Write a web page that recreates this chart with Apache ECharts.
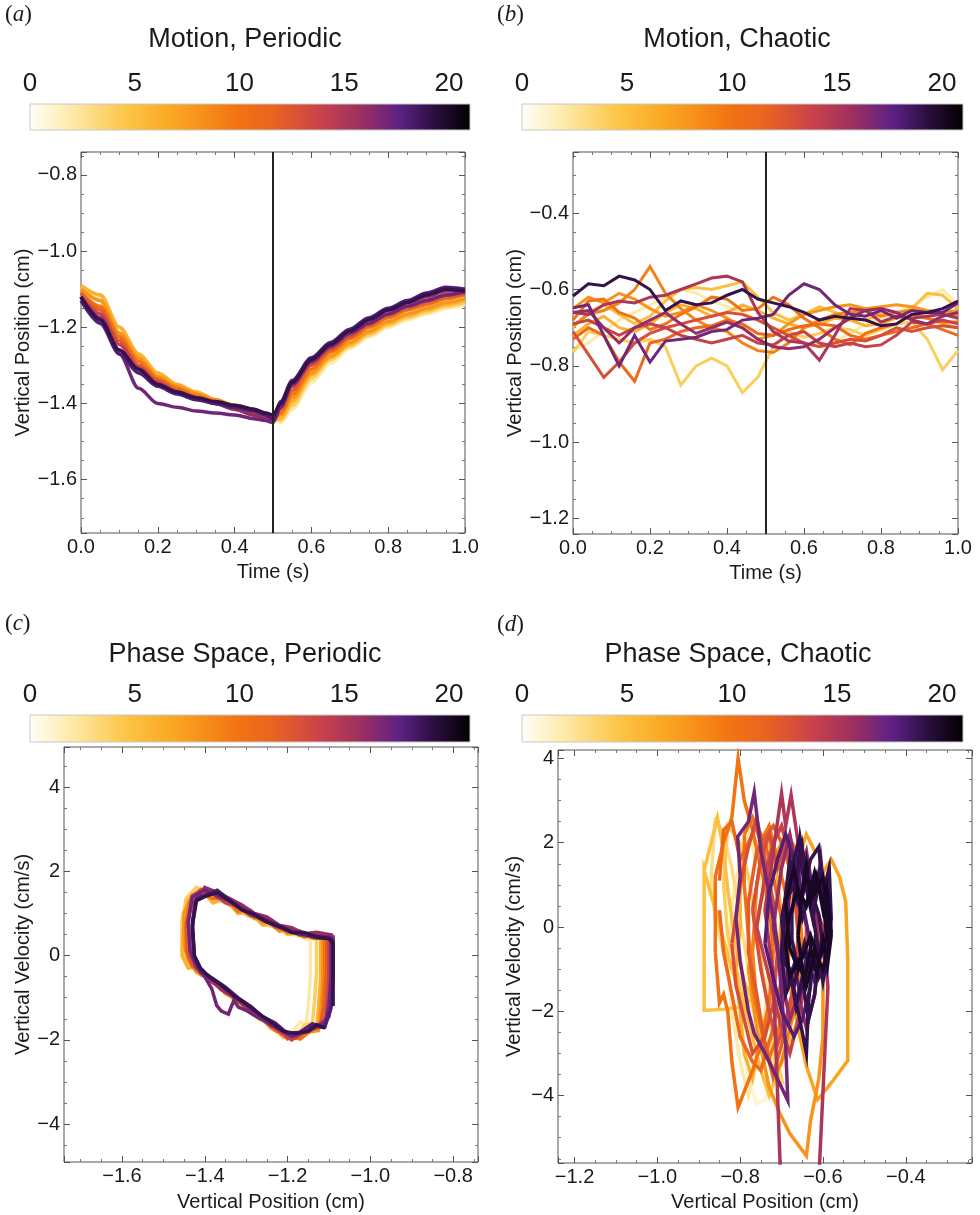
<!DOCTYPE html>
<html><head><meta charset="utf-8">
<script src="https://cdn.jsdelivr.net/npm/echarts@6/dist/echarts.min.js"></script>
<style>html,body{margin:0;padding:0;background:#fff}#c{width:980px;height:1215px}</style>
</head><body><div id="c"></div>
<script>
// ---------------- DATA ----------------
const colorbarMax = 21;
const divideTime = 0.5;

// (a) Motion, Periodic : time samples and one array per cycle
const timeA = [0,0.05,0.1,0.15,0.2,0.25,0.3,0.35,0.4,0.45,0.48,0.5,0.52,0.55,0.6,0.65,0.7,0.75,0.8,0.85,0.9,0.95,1.0];
const mp_c2  = [-1.10,-1.12,-1.20,-1.275,-1.325,-1.355,-1.375,-1.39,-1.405,-1.42,-1.43,-1.44,-1.45,-1.415,-1.345,-1.295,-1.255,-1.225,-1.20,-1.18,-1.165,-1.15,-1.14];
const mp_c4  = [-1.095,-1.115,-1.20,-1.27,-1.32,-1.35,-1.37,-1.39,-1.405,-1.42,-1.43,-1.44,-1.445,-1.405,-1.335,-1.285,-1.25,-1.22,-1.195,-1.175,-1.16,-1.145,-1.135];
const mp_c6  = [-1.09,-1.115,-1.20,-1.27,-1.32,-1.35,-1.37,-1.39,-1.405,-1.42,-1.425,-1.44,-1.44,-1.395,-1.325,-1.28,-1.245,-1.215,-1.19,-1.17,-1.155,-1.14,-1.13];
const mp_c8  = [-1.10,-1.13,-1.215,-1.28,-1.33,-1.355,-1.375,-1.39,-1.405,-1.415,-1.425,-1.435,-1.43,-1.385,-1.32,-1.275,-1.24,-1.21,-1.185,-1.165,-1.15,-1.135,-1.125];
const mp_c10 = [-1.11,-1.145,-1.225,-1.29,-1.335,-1.36,-1.38,-1.395,-1.41,-1.42,-1.43,-1.44,-1.425,-1.375,-1.31,-1.265,-1.23,-1.20,-1.175,-1.155,-1.14,-1.125,-1.115];
const mp_c12 = [-1.11,-1.155,-1.235,-1.30,-1.34,-1.365,-1.385,-1.40,-1.41,-1.425,-1.435,-1.445,-1.415,-1.365,-1.30,-1.26,-1.225,-1.195,-1.17,-1.15,-1.135,-1.12,-1.11];
const mp_c14 = [-1.12,-1.165,-1.245,-1.305,-1.345,-1.37,-1.385,-1.40,-1.415,-1.43,-1.44,-1.445,-1.405,-1.355,-1.295,-1.255,-1.22,-1.19,-1.165,-1.145,-1.13,-1.115,-1.11];
const mp_c16 = [-1.12,-1.175,-1.26,-1.31,-1.35,-1.37,-1.385,-1.40,-1.415,-1.43,-1.44,-1.44,-1.40,-1.345,-1.285,-1.245,-1.21,-1.18,-1.155,-1.135,-1.12,-1.105,-1.10];
const mp_c17 = [-1.12,-1.18,-1.27,-1.36,-1.40,-1.41,-1.42,-1.425,-1.43,-1.44,-1.445,-1.45,-1.41,-1.35,-1.29,-1.25,-1.215,-1.19,-1.165,-1.145,-1.13,-1.115,-1.105];
const mp_c18 = [-1.13,-1.19,-1.27,-1.32,-1.355,-1.375,-1.39,-1.40,-1.41,-1.42,-1.43,-1.44,-1.395,-1.34,-1.28,-1.24,-1.205,-1.175,-1.15,-1.13,-1.11,-1.095,-1.10];
const mp_c19 = [-1.12,-1.18,-1.26,-1.31,-1.35,-1.37,-1.385,-1.395,-1.405,-1.415,-1.425,-1.43,-1.40,-1.345,-1.285,-1.245,-1.21,-1.18,-1.155,-1.135,-1.115,-1.10,-1.105];
const mpCycles = [2,4,6,8,10,12,14,16,17,18,19];
const mpCurves = [mp_c2,mp_c4,mp_c6,mp_c8,mp_c10,mp_c12,mp_c14,mp_c16,mp_c17,mp_c18,mp_c19];

// (b) Motion, Chaotic
const timeB = [0,0.04,0.08,0.12,0.16,0.2,0.24,0.28,0.32,0.36,0.4,0.44,0.48,0.52,0.56,0.6,0.64,0.68,0.72,0.76,0.8,0.84,0.88,0.92,0.96,1.0];
const mc_c2  = [-0.76,-0.74,-0.71,-0.68,-0.66,-0.64,-0.62,-0.60,-0.61,-0.63,-0.645,-0.66,-0.68,-0.70,-0.72,-0.74,-0.745,-0.735,-0.715,-0.69,-0.675,-0.66,-0.645,-0.62,-0.60,-0.64];
const mc_c4  = [-0.765,-0.71,-0.72,-0.73,-0.74,-0.73,-0.75,-0.85,-0.80,-0.78,-0.80,-0.87,-0.83,-0.75,-0.71,-0.725,-0.715,-0.70,-0.705,-0.72,-0.705,-0.69,-0.685,-0.73,-0.81,-0.76];
const mc_c5  = [-0.70,-0.66,-0.64,-0.665,-0.69,-0.67,-0.63,-0.60,-0.595,-0.60,-0.59,-0.58,-0.62,-0.66,-0.68,-0.665,-0.645,-0.66,-0.675,-0.68,-0.665,-0.665,-0.65,-0.61,-0.615,-0.65];
const mc_c6  = [-0.72,-0.69,-0.67,-0.70,-0.71,-0.69,-0.66,-0.64,-0.65,-0.67,-0.66,-0.64,-0.655,-0.675,-0.69,-0.70,-0.69,-0.675,-0.68,-0.695,-0.69,-0.675,-0.67,-0.675,-0.69,-0.70];
const mc_c8  = [-0.65,-0.62,-0.635,-0.61,-0.625,-0.65,-0.67,-0.66,-0.64,-0.655,-0.675,-0.70,-0.73,-0.72,-0.69,-0.665,-0.655,-0.645,-0.64,-0.65,-0.645,-0.64,-0.645,-0.655,-0.66,-0.655];
const mc_c9  = [-0.695,-0.665,-0.655,-0.635,-0.60,-0.54,-0.61,-0.65,-0.68,-0.70,-0.71,-0.74,-0.76,-0.765,-0.74,-0.70,-0.68,-0.665,-0.66,-0.655,-0.67,-0.66,-0.655,-0.66,-0.665,-0.67];
const mc_c10 = [-0.68,-0.63,-0.625,-0.66,-0.675,-0.705,-0.69,-0.665,-0.645,-0.62,-0.625,-0.655,-0.65,-0.62,-0.64,-0.675,-0.70,-0.73,-0.745,-0.715,-0.70,-0.69,-0.665,-0.675,-0.685,-0.685];
const mc_c11 = [-0.73,-0.70,-0.72,-0.79,-0.84,-0.74,-0.73,-0.71,-0.70,-0.695,-0.68,-0.69,-0.715,-0.72,-0.705,-0.695,-0.69,-0.695,-0.72,-0.73,-0.72,-0.71,-0.70,-0.69,-0.705,-0.72];
const mc_c13 = [-0.71,-0.77,-0.83,-0.79,-0.74,-0.715,-0.70,-0.69,-0.68,-0.67,-0.66,-0.665,-0.68,-0.70,-0.72,-0.74,-0.75,-0.74,-0.73,-0.735,-0.72,-0.70,-0.71,-0.70,-0.695,-0.70];
const mc_c14 = [-0.69,-0.68,-0.70,-0.72,-0.70,-0.69,-0.70,-0.72,-0.73,-0.74,-0.73,-0.72,-0.74,-0.745,-0.72,-0.71,-0.74,-0.75,-0.74,-0.75,-0.745,-0.72,-0.685,-0.69,-0.68,-0.69];
const mc_c15 = [-0.66,-0.665,-0.64,-0.63,-0.635,-0.62,-0.615,-0.60,-0.585,-0.57,-0.565,-0.58,-0.66,-0.71,-0.735,-0.74,-0.785,-0.72,-0.65,-0.655,-0.685,-0.67,-0.675,-0.67,-0.665,-0.675];
const mc_c16 = [-0.66,-0.655,-0.70,-0.74,-0.70,-0.68,-0.66,-0.69,-0.715,-0.70,-0.685,-0.70,-0.73,-0.75,-0.755,-0.75,-0.73,-0.70,-0.675,-0.655,-0.65,-0.66,-0.68,-0.69,-0.67,-0.66];
const mc_c17 = [-0.648,-0.64,-0.72,-0.80,-0.72,-0.79,-0.735,-0.73,-0.725,-0.71,-0.705,-0.68,-0.675,-0.665,-0.615,-0.585,-0.60,-0.64,-0.665,-0.67,-0.655,-0.675,-0.655,-0.66,-0.66,-0.635];
const mc_c19 = [-0.617,-0.585,-0.59,-0.565,-0.575,-0.60,-0.655,-0.63,-0.64,-0.635,-0.615,-0.60,-0.625,-0.635,-0.645,-0.66,-0.68,-0.67,-0.675,-0.68,-0.695,-0.69,-0.665,-0.66,-0.65,-0.63];
const mcCycles = [2,4,5,6,8,9,10,11,13,14,15,16,17,19];
const mcCurves = [mc_c2,mc_c4,mc_c5,mc_c6,mc_c8,mc_c9,mc_c10,mc_c11,mc_c13,mc_c14,mc_c15,mc_c16,mc_c17,mc_c19];

// (c) Phase Space, Periodic : [position (cm), velocity (cm/s)]
const pp_c2  = [[-1.145,0.35],[-1.145,-0.5],[-1.15,-1.2],[-1.155,-1.62],[-1.17,-1.58],[-1.19,-1.85],[-1.21,-1.92],[-1.24,-1.70],[-1.27,-1.45],[-1.30,-1.25],[-1.33,-0.98],[-1.36,-0.78],[-1.39,-0.55],[-1.42,-0.35],[-1.44,-0.15],[-1.455,0.2],[-1.455,0.9],[-1.44,1.40],[-1.41,1.55],[-1.38,1.38],[-1.35,1.30],[-1.32,1.08],[-1.29,0.95],[-1.26,0.78],[-1.23,0.68],[-1.20,0.52],[-1.17,0.46],[-1.145,0.35]];
const pp_c4  = [[-1.13,0.40],[-1.13,-0.4],[-1.135,-1.1],[-1.14,-1.60],[-1.16,-1.66],[-1.18,-1.92],[-1.21,-1.85],[-1.24,-1.66],[-1.27,-1.40],[-1.30,-1.20],[-1.33,-1.02],[-1.36,-0.74],[-1.39,-0.58],[-1.42,-0.30],[-1.44,-0.20],[-1.455,0.1],[-1.455,0.8],[-1.445,1.35],[-1.42,1.62],[-1.39,1.42],[-1.36,1.30],[-1.33,1.18],[-1.30,0.96],[-1.27,0.86],[-1.24,0.70],[-1.21,0.60],[-1.18,0.50],[-1.15,0.45],[-1.13,0.40]];
const pp_c6  = [[-1.12,0.42],[-1.12,-0.5],[-1.125,-1.2],[-1.13,-1.72],[-1.15,-1.70],[-1.18,-1.90],[-1.21,-1.95],[-1.24,-1.62],[-1.27,-1.50],[-1.30,-1.15],[-1.33,-1.05],[-1.36,-0.70],[-1.39,-0.62],[-1.42,-0.28],[-1.44,-0.30],[-1.455,0.0],[-1.45,0.9],[-1.44,1.30],[-1.41,1.58],[-1.38,1.25],[-1.35,1.35],[-1.32,1.00],[-1.29,1.02],[-1.26,0.72],[-1.23,0.75],[-1.20,0.50],[-1.17,0.55],[-1.14,0.40],[-1.12,0.42]];
const pp_c8  = [[-1.115,0.45],[-1.115,-0.6],[-1.12,-1.3],[-1.125,-1.78],[-1.15,-1.82],[-1.18,-1.96],[-1.21,-1.88],[-1.24,-1.72],[-1.27,-1.42],[-1.30,-1.28],[-1.33,-0.95],[-1.36,-0.82],[-1.39,-0.50],[-1.42,-0.40],[-1.44,-0.10],[-1.45,0.3],[-1.45,1.0],[-1.43,1.45],[-1.40,1.50],[-1.37,1.45],[-1.34,1.20],[-1.31,1.15],[-1.28,0.88],[-1.25,0.85],[-1.22,0.58],[-1.19,0.62],[-1.16,0.45],[-1.13,0.50],[-1.115,0.45]];
const pp_c10 = [[-1.11,0.40],[-1.11,-0.5],[-1.115,-1.25],[-1.12,-1.70],[-1.14,-1.75],[-1.17,-1.98],[-1.20,-1.90],[-1.23,-1.78],[-1.26,-1.50],[-1.29,-1.32],[-1.32,-1.05],[-1.35,-0.90],[-1.38,-0.60],[-1.41,-0.45],[-1.43,-0.20],[-1.445,0.1],[-1.445,0.8],[-1.435,1.30],[-1.41,1.48],[-1.38,1.35],[-1.35,1.38],[-1.32,1.05],[-1.29,1.08],[-1.26,0.80],[-1.23,0.78],[-1.20,0.55],[-1.17,0.58],[-1.14,0.42],[-1.11,0.40]];
const pp_c12 = [[-1.105,0.45],[-1.105,-0.4],[-1.11,-1.2],[-1.12,-1.62],[-1.14,-1.70],[-1.17,-1.85],[-1.20,-1.98],[-1.23,-1.65],[-1.26,-1.48],[-1.29,-1.20],[-1.32,-1.08],[-1.35,-0.78],[-1.38,-0.65],[-1.41,-0.35],[-1.43,-0.25],[-1.44,0.0],[-1.445,0.7],[-1.43,1.35],[-1.40,1.60],[-1.37,1.38],[-1.34,1.32],[-1.31,1.10],[-1.28,0.92],[-1.25,0.85],[-1.22,0.65],[-1.19,0.60],[-1.16,0.45],[-1.13,0.48],[-1.105,0.45]];
const pp_c14 = [[-1.10,0.42],[-1.10,-0.6],[-1.105,-1.3],[-1.11,-1.66],[-1.13,-1.72],[-1.16,-1.82],[-1.19,-2.00],[-1.22,-1.80],[-1.25,-1.55],[-1.28,-1.30],[-1.31,-1.12],[-1.34,-0.85],[-1.37,-0.70],[-1.40,-0.42],[-1.42,-0.30],[-1.435,0.0],[-1.44,0.8],[-1.43,1.40],[-1.41,1.55],[-1.38,1.48],[-1.35,1.25],[-1.32,1.18],[-1.29,0.95],[-1.26,0.90],[-1.23,0.68],[-1.20,0.62],[-1.17,0.48],[-1.14,0.50],[-1.10,0.42]];
const pp_c16 = [[-1.09,0.48],[-1.09,-0.4],[-1.095,-1.1],[-1.10,-1.45],[-1.12,-1.62],[-1.15,-1.72],[-1.18,-1.90],[-1.21,-1.78],[-1.24,-1.66],[-1.27,-1.38],[-1.30,-1.22],[-1.33,-0.98],[-1.36,-0.80],[-1.39,-0.55],[-1.41,-0.40],[-1.425,-0.1],[-1.43,0.6],[-1.425,1.25],[-1.40,1.62],[-1.37,1.50],[-1.34,1.35],[-1.31,1.20],[-1.28,1.00],[-1.25,0.92],[-1.22,0.72],[-1.19,0.66],[-1.16,0.52],[-1.13,0.55],[-1.09,0.48]];
const pp_c17 = [[-1.095,0.45],[-1.095,-0.5],[-1.10,-1.2],[-1.11,-1.62],[-1.13,-1.68],[-1.16,-1.80],[-1.19,-1.92],[-1.22,-1.75],[-1.25,-1.58],[-1.28,-1.42],[-1.30,-1.30],[-1.318,-1.23],[-1.33,-1.07],[-1.343,-1.39],[-1.36,-1.32],[-1.371,-1.19],[-1.383,-0.79],[-1.40,-0.50],[-1.42,-0.25],[-1.435,0.1],[-1.44,0.8],[-1.43,1.40],[-1.40,1.55],[-1.37,1.42],[-1.34,1.30],[-1.31,1.12],[-1.28,0.98],[-1.25,0.85],[-1.22,0.70],[-1.19,0.58],[-1.16,0.52],[-1.13,0.45],[-1.095,0.45]];
const pp_c18 = [[-1.09,0.40],[-1.09,-0.3],[-1.092,-0.9],[-1.095,-1.25],[-1.11,-1.70],[-1.14,-1.62],[-1.17,-1.82],[-1.20,-1.85],[-1.23,-1.60],[-1.26,-1.45],[-1.29,-1.20],[-1.32,-1.00],[-1.35,-0.75],[-1.38,-0.55],[-1.41,-0.35],[-1.425,-0.05],[-1.43,0.8],[-1.42,1.35],[-1.395,1.45],[-1.37,1.55],[-1.34,1.32],[-1.31,1.10],[-1.28,0.95],[-1.25,0.80],[-1.22,0.68],[-1.19,0.55],[-1.16,0.50],[-1.13,0.42],[-1.09,0.40]];
const pp_c19 = [[-1.11,-1.72],[-1.13,-1.65],[-1.15,-1.80],[-1.18,-1.85],[-1.21,-1.80],[-1.24,-1.58],[-1.27,-1.38],[-1.30,-1.15],[-1.33,-0.95],[-1.36,-0.70],[-1.39,-0.50],[-1.41,-0.30],[-1.425,0.0],[-1.43,0.7],[-1.42,1.30],[-1.40,1.40],[-1.37,1.50],[-1.34,1.30],[-1.31,1.08],[-1.28,0.98],[-1.25,0.80],[-1.22,0.70],[-1.19,0.55],[-1.16,0.55],[-1.13,0.45],[-1.10,0.40],[-1.09,0.30],[-1.09,-0.5],[-1.09,-1.2]];
const ppCycles = [2,4,6,8,10,12,14,16,17,18,19];
const ppCurves = [pp_c2,pp_c4,pp_c6,pp_c8,pp_c10,pp_c12,pp_c14,pp_c16,pp_c17,pp_c18,pp_c19];

// (d) Phase Space, Chaotic : [position (cm), velocity (cm/s)]
const pc_c1  = [[-0.72,0.2],[-0.70,1.2],[-0.68,1.9],[-0.66,1.2],[-0.62,0.6],[-0.60,-0.4],[-0.62,-1.6],[-0.66,-2.6],[-0.70,-3.4],[-0.74,-4.1],[-0.76,-4.2],[-0.78,-3.6],[-0.80,-2.4],[-0.79,-1.2],[-0.77,-0.3],[-0.74,0.5],[-0.72,1.3]];
const pc_c2  = [[-0.82,0.5],[-0.80,1.6],[-0.78,2.3],[-0.76,1.5],[-0.74,0.6],[-0.73,-0.8],[-0.74,-2.0],[-0.76,-3.0],[-0.78,-4.0],[-0.80,-3.2],[-0.82,-2.0],[-0.83,-0.8],[-0.82,0.5]];
const pc_c3  = [[-0.86,2.6],[-0.84,2.2],[-0.82,1.4],[-0.80,0.2],[-0.78,-1.0],[-0.75,-2.4],[-0.72,-3.2],[-0.70,-3.8],[-0.72,-3.0],[-0.76,-2.2],[-0.80,-1.2],[-0.84,-0.6],[-0.86,0.2],[-0.87,1.2],[-0.86,2.6]];
const pc_c4  = [[-0.84,1.0],[-0.83,2.4],[-0.80,2.0],[-0.78,1.2],[-0.76,0.0],[-0.74,-1.5],[-0.72,-2.8],[-0.70,-3.6],[-0.73,-3.2],[-0.77,-2.4],[-0.80,-1.4],[-0.83,-0.2],[-0.84,1.0]];
const pc_c5  = [[-0.887,1.35],[-0.87,2.0],[-0.855,2.6],[-0.84,1.8],[-0.83,0.9],[-0.81,-0.5],[-0.79,-1.3],[-0.77,-1.7],[-0.80,-1.9],[-0.84,-1.95],[-0.887,-1.98],[-0.887,-0.5],[-0.887,1.35],[-0.86,0.4],[-0.82,-1.0],[-0.78,-2.2],[-0.75,-3.4],[-0.73,-4.0],[-0.70,-3.2],[-0.66,-2.2]];
const pc_c6  = [[-0.80,0.8],[-0.79,1.8],[-0.77,2.2],[-0.75,1.6],[-0.73,2.0],[-0.71,1.2],[-0.70,0.2],[-0.71,-0.8],[-0.73,-1.8],[-0.75,-2.6],[-0.77,-3.6],[-0.79,-3.0],[-0.80,-2.0],[-0.81,-1.0],[-0.80,0.0],[-0.80,0.8]];
const pc_c7  = [[-0.66,0.2],[-0.62,1.0],[-0.58,1.6],[-0.56,1.19],[-0.545,0.6],[-0.54,-0.8],[-0.54,-2.0],[-0.54,-3.17],[-0.58,-3.7],[-0.613,-4.1],[-0.64,-3.3],[-0.66,-2.4],[-0.68,-1.4],[-0.69,-0.4],[-0.68,0.6],[-0.66,1.6],[-0.64,2.2],[-0.62,1.8]];
const pc_c8  = [[-0.78,-1.0],[-0.76,-2.4],[-0.73,-3.8],[-0.705,-4.4],[-0.68,-4.9],[-0.64,-5.43],[-0.63,-4.6],[-0.61,-3.6],[-0.60,-2.6],[-0.60,-1.4],[-0.61,-0.2],[-0.63,1.0],[-0.66,1.8],[-0.69,2.2],[-0.72,1.6],[-0.75,0.6],[-0.78,-1.0]];
const pc_c9  = [[-0.76,1.0],[-0.74,2.2],[-0.72,2.0],[-0.70,2.4],[-0.68,1.6],[-0.66,0.8],[-0.65,-0.4],[-0.66,-1.6],[-0.68,-2.4],[-0.70,-3.2],[-0.72,-3.6],[-0.74,-2.8],[-0.76,-1.8],[-0.77,-0.6],[-0.76,1.0]];
const pc_c10 = [[-0.86,-0.6],[-0.86,1.2],[-0.84,2.0],[-0.82,2.6],[-0.805,4.0],[-0.79,3.0],[-0.77,2.3],[-0.75,1.4],[-0.73,0.6],[-0.72,-0.6],[-0.73,-1.8],[-0.75,-2.8],[-0.77,-3.4],[-0.79,-3.9],[-0.805,-4.28],[-0.82,-3.2],[-0.83,-2.0],[-0.84,-1.6],[-0.85,-1.8],[-0.86,-0.6]];
const pc_c10b = [[-0.79,2.2],[-0.77,2.6],[-0.75,2.0],[-0.73,2.4],[-0.71,1.6],[-0.69,0.8],[-0.68,-0.4],[-0.69,-1.4],[-0.71,-2.6],[-0.73,-3.1],[-0.75,-2.4],[-0.77,-1.4],[-0.78,-0.2],[-0.79,1.0],[-0.79,2.2]];
const pc_c11 = [[-0.85,1.1],[-0.84,2.3],[-0.82,2.5],[-0.80,1.6],[-0.78,2.0],[-0.76,2.4],[-0.74,2.0],[-0.72,1.2],[-0.70,0.2],[-0.70,-1.2],[-0.72,-2.4],[-0.75,-3.4],[-0.77,-3.2],[-0.80,-2.6],[-0.82,-1.6],[-0.84,-0.6],[-0.85,0.4]];
const pc_c12 = [[-0.78,0.6],[-0.76,1.8],[-0.72,2.4],[-0.70,2.0],[-0.68,1.4],[-0.66,0.4],[-0.66,-0.8],[-0.68,-2.0],[-0.70,-2.8],[-0.72,-3.5],[-0.74,-2.8],[-0.76,-1.6],[-0.78,-0.6],[-0.78,0.6]];
const pc_c13 = [[-0.77,0.4],[-0.75,1.6],[-0.73,2.2],[-0.71,1.4],[-0.69,2.0],[-0.67,1.0],[-0.66,-0.2],[-0.67,-1.4],[-0.69,-2.2],[-0.71,-2.8],[-0.73,-2.0],[-0.75,-1.0],[-0.77,0.4]];
const pc_c13b = [[-0.82,-0.4],[-0.80,1.0],[-0.78,1.9],[-0.76,2.6],[-0.74,1.6],[-0.72,0.6],[-0.71,-0.6],[-0.72,-1.8],[-0.74,-2.6],[-0.77,-3.0],[-0.79,-2.2],[-0.81,-1.4],[-0.82,-0.4]];
const pc_c14 = [[-0.76,0.0],[-0.74,1.2],[-0.72,2.0],[-0.70,2.4],[-0.68,1.8],[-0.66,1.0],[-0.64,0.0],[-0.64,-1.2],[-0.66,-2.2],[-0.68,-3.0],[-0.70,-2.4],[-0.72,-1.6],[-0.74,-0.8],[-0.76,0.0]];
const pc_c15 = [[-0.74,0.4],[-0.72,1.8],[-0.70,3.17],[-0.69,2.4],[-0.677,3.13],[-0.66,2.0],[-0.64,1.0],[-0.60,0.0],[-0.588,-1.43],[-0.612,-6.4],[-0.70,-6.6],[-0.72,-1.1],[-0.73,-0.4],[-0.74,0.4]];
const pc_c16 = [[-0.72,0.0],[-0.70,1.4],[-0.68,2.2],[-0.66,1.2],[-0.64,1.8],[-0.62,0.6],[-0.61,-0.6],[-0.62,-1.6],[-0.64,-2.4],[-0.66,-1.6],[-0.68,-2.2],[-0.70,-1.2],[-0.72,0.0]];
const pc_c17 = [[-0.80,1.2],[-0.806,2.14],[-0.78,2.5],[-0.766,3.2],[-0.75,1.8],[-0.73,0.8],[-0.71,-0.4],[-0.70,-1.6],[-0.69,-2.8],[-0.685,-4.12],[-0.71,-3.6],[-0.74,-3.0],[-0.766,-2.53],[-0.78,-2.0],[-0.80,-0.8],[-0.81,0.2],[-0.80,1.2]];
const pc_c18 = [[-0.74,-0.4],[-0.73,0.8],[-0.71,1.6],[-0.69,2.2],[-0.67,1.6],[-0.65,0.6],[-0.63,-0.4],[-0.63,-1.4],[-0.65,-2.2],[-0.67,-2.6],[-0.70,-2.0],[-0.72,-1.2],[-0.74,-0.4]];
const pc_c18b = [[-0.69,-0.2],[-0.68,0.9],[-0.665,1.7],[-0.65,0.7],[-0.635,1.4],[-0.62,0.5],[-0.605,1.6],[-0.595,0.6],[-0.58,-0.2],[-0.59,-1.0],[-0.605,-0.4],[-0.62,-1.3],[-0.64,-0.7],[-0.655,-1.6],[-0.67,-0.9],[-0.685,-1.3],[-0.69,-0.2]];
const pc_c19 = [[-0.70,0.2],[-0.68,1.2],[-0.66,2.0],[-0.645,1.0],[-0.63,1.6],[-0.61,1.9],[-0.60,0.8],[-0.585,1.4],[-0.58,0.2],[-0.59,-0.8],[-0.61,-1.2],[-0.62,-0.4],[-0.635,-1.8],[-0.64,-3.0],[-0.66,-2.0],[-0.675,-1.2],[-0.69,-1.6],[-0.70,-0.6],[-0.69,0.6],[-0.67,1.0],[-0.65,0.2],[-0.63,0.9],[-0.61,0.3],[-0.60,-0.5],[-0.62,-1.0],[-0.65,-0.6],[-0.67,-1.4],[-0.69,-0.8],[-0.70,0.2]];
const pc_c19b = [[-0.675,0.3],[-0.665,1.1],[-0.65,1.9],[-0.64,0.9],[-0.625,0.2],[-0.61,1.1],[-0.595,0.3],[-0.59,-0.7],[-0.60,-1.3],[-0.615,-0.5],[-0.63,-1.1],[-0.645,-0.4],[-0.66,-1.0],[-0.675,-0.3],[-0.675,0.3]];
const pc_c19c = [[-0.70,-0.8],[-0.695,0.4],[-0.68,1.6],[-0.665,0.8],[-0.655,2.1],[-0.64,1.2],[-0.625,0.3],[-0.61,-0.6],[-0.62,-1.6],[-0.635,-2.2],[-0.65,-1.2],[-0.665,-1.9],[-0.68,-1.0],[-0.70,-0.8]];
const pc_c20 = [[-0.69,0.6],[-0.67,1.4],[-0.655,0.6],[-0.64,1.2],[-0.62,0.8],[-0.60,1.2],[-0.59,0.4],[-0.585,-0.4],[-0.60,-1.0],[-0.62,-0.6],[-0.64,-1.4],[-0.66,-0.8],[-0.68,-1.2],[-0.69,-0.4],[-0.68,0.3],[-0.66,0.9],[-0.64,0.5],[-0.62,1.3],[-0.60,0.6],[-0.59,-0.2],[-0.61,-0.8],[-0.63,-0.2],[-0.66,-1.0],[-0.68,-0.5],[-0.69,0.6]];
const pc_c20b = [[-0.66,-0.2],[-0.65,0.8],[-0.64,1.5],[-0.63,0.6],[-0.615,1.2],[-0.60,0.4],[-0.59,0.9],[-0.58,-0.1],[-0.59,-0.9],[-0.60,-0.3],[-0.615,-1.1],[-0.63,-0.5],[-0.645,-1.3],[-0.655,-0.6],[-0.66,-0.2]];
const pcCycles = [1,2,3,4,5,6,7,8,9,10,10,11,12,13,13,14,15,16,17,18,18,19,19,19,20,20];
const pcCurves = [pc_c1,pc_c2,pc_c3,pc_c4,pc_c5,pc_c6,pc_c7,pc_c8,pc_c9,pc_c10,pc_c10b,pc_c11,pc_c12,pc_c13,pc_c13b,pc_c14,pc_c15,pc_c16,pc_c17,pc_c18,pc_c18b,pc_c19,pc_c19b,pc_c19c,pc_c20,pc_c20b];

// ---------------- STYLE / BUILD ----------------
const FONT = '"Liberation Sans", Arial, sans-serif';
const TXT = '#1a1a1a';
const FRAME = '#555';
const cmapStops = [[0.00,'#fffff8'],[0.10,'#fde9a6'],[0.22,'#fcc546'],[0.33,'#faa622'],[0.47,'#f27412'],[0.55,'#ea6420'],[0.66,'#c8424a'],[0.75,'#9c3060'],[0.84,'#5c2184'],[0.92,'#2a0e3e'],[1.00,'#000000']];
function hex(h){return [1,3,5].map(i=>parseInt(h.substr(i,2),16));}
function colorAt(t){
  t=Math.max(0,Math.min(1,t));
  for(let i=1;i<cmapStops.length;i++){
    if(t<=cmapStops[i][0]){
      const a=hex(cmapStops[i-1][1]), b=hex(cmapStops[i][1]);
      const f=(t-cmapStops[i-1][0])/(cmapStops[i][0]-cmapStops[i-1][0]);
      return 'rgb('+a.map((v,k)=>Math.round(v+(b[k]-v)*f)).join(',')+')';
    }
  }
  return '#000';
}
function fmt1(v){return (v<-1e-9?'\u2212':'')+Math.abs(v).toFixed(1);}
function fmt0(v){return (v<-1e-9?'\u2212':'')+Math.abs(Math.round(v));}

const grids = [
  {left:81, top:152, width:384, height:381},
  {left:573, top:152, width:385, height:382},
  {left:64, top:747, width:414, height:415},
  {left:558, top:750, width:414, height:413},
  {left:30, top:104, width:440, height:26},
  {left:522, top:104, width:441, height:26},
  {left:30, top:715, width:440, height:27},
  {left:522, top:715, width:441, height:27}
].map((g,i)=>Object.assign(g, i<4 ? {show:true, borderColor:FRAME, borderWidth:1, backgroundColor:'transparent'} : {show:false}));

function mainAxis(gi, pos, min, max, interval, fmt, name, nameGap, mirror){
  const a = {type:'value', gridIndex:gi, position:pos, min:min, max:max, splitNumber:5,
    axisLine:{show:false, onZero:false},
    axisTick:{show:true, inside:true, length:6, lineStyle:{color:FRAME, width:1}},
    minorTick:{show:true, splitNumber:4, length:3, lineStyle:{color:'#777', width:1}},
    splitLine:{show:false}, minorSplitLine:{show:false}};
  if (interval) a.interval = interval;
  if (mirror) { a.axisLabel = {show:false}; }
  else {
    a.axisLabel = {show:true, formatter:fmt, color:TXT, fontSize:20, fontFamily:FONT, margin:4,
      showMinLabel: !!interval, showMaxLabel: !!interval};
    a.name = name; a.nameLocation = 'middle'; a.nameGap = nameGap;
    a.nameTextStyle = {color:TXT, fontSize:20, fontFamily:FONT};
  }
  return a;
}
const axSpec = [
  {x:[0,1,0.2,fmt1,'Time (s)',29], y:[-1.74,-0.74,null,fmt1,'Vertical Position (cm)',46]},
  {x:[0,1,0.2,fmt1,'Time (s)',29], y:[-1.24,-0.24,null,fmt1,'Vertical Position (cm)',48]},
  {x:[-1.74,-0.74,null,fmt1,'Vertical Position (cm)',30], y:[-4.9,4.95,null,fmt0,'Vertical Velocity (cm/s)',30]},
  {x:[-1.24,-0.24,null,fmt1,'Vertical Position (cm)',29], y:[-5.6,4.2,null,fmt0,'Vertical Velocity (cm/s)',34]}
];
const xAxes=[], yAxes=[];
axSpec.forEach((s,i)=>{ xAxes.push(mainAxis(i,'bottom',...s.x,false)); yAxes.push(mainAxis(i,'left',...s.y,false)); });
axSpec.forEach((s,i)=>{ xAxes.push(mainAxis(i,'top',...s.x,true)); yAxes.push(mainAxis(i,'right',...s.y,true)); });
for(let k=0;k<4;k++){
  xAxes.push({type:'value', gridIndex:4+k, position:'top', min:0, max:colorbarMax, interval:5,
    axisLine:{show:false, onZero:false}, axisTick:{show:false}, splitLine:{show:false},
    axisLabel:{show:true, color:TXT, fontSize:26, fontFamily:FONT, margin:7, showMinLabel:true, showMaxLabel:false}});
  yAxes.push({type:'value', gridIndex:4+k, min:0, max:1, show:false});
}

const series = [];
function addLines(curves, cycles, gi, toData, width, smooth){
  curves.forEach((c,i)=>{
    series.push({type:'line', xAxisIndex:gi, yAxisIndex:gi, data:toData(c), symbol:'none', showSymbol:false,
      silent:true, clip:true, smooth:smooth||false, smoothMonotone: smooth ? 'x' : undefined, z:2,
      lineStyle:{color:colorAt(cycles[i]/colorbarMax), width:width, join:'miter'}});
  });
}
addLines(mpCurves, mpCycles, 0, c=>timeA.map((t,j)=>[t,c[j]]), 3.5, 0.3);
addLines(mcCurves, mcCycles, 1, c=>timeB.map((t,j)=>[t,c[j]]), 3);
addLines(ppCurves, ppCycles, 2, c=>c, 3.5);
addLines(pcCurves, pcCycles, 3, c=>c, 3.5);
[0,1].forEach(gi=>{
  series.push({type:'line', xAxisIndex:gi, yAxisIndex:gi, data:[], silent:true, z:10,
    markLine:{silent:true, symbol:['none','none'], label:{show:false}, animation:false,
      lineStyle:{color:'#222', width:2, type:'solid'}, data:[{xAxis:divideTime}]}});
});
const gradStops = cmapStops.map(s=>({offset:s[0], color:s[1]}));
for(let k=0;k<4;k++){
  series.push({type:'custom', xAxisIndex:8+k, yAxisIndex:8+k, data:[[0,0]], silent:true,
    renderItem:function(params, api){
      const p0 = api.coord([0,0]), p1 = api.coord([colorbarMax,1]);
      return {type:'rect', shape:{x:p0[0], y:p1[1], width:p1[0]-p0[0], height:p0[1]-p1[1]},
        style:{fill:new echarts.graphic.LinearGradient(0,0,1,0,gradStops), stroke:'#c8c8c8', lineWidth:1}};
    }});
}

const titles = [['Motion, Periodic',245,40],['Motion, Chaotic',737,40],['Phase Space, Periodic',245,655],['Phase Space, Chaotic',738,655]];
const letters = [['a',5,15],['b',497,15],['c',5,624],['d',497,625]];
const graphic = [];
titles.forEach(t=>graphic.push({type:'text', x:t[1], y:t[2], silent:true,
  style:{text:t[0], fill:TXT, fontSize:27, fontFamily:FONT, align:'center', verticalAlign:'middle'}}));
letters.forEach(l=>graphic.push({type:'text', x:l[1], y:l[2], silent:true,
  style:{text:'{p|(}{i|'+l[0]+'}{p|)}', fill:TXT, align:'left', verticalAlign:'middle',
    rich:{p:{fontFamily:'"Liberation Serif", serif', fontSize:23, fill:TXT},
          i:{fontFamily:'"Liberation Serif", serif', fontStyle:'italic', fontSize:23, fill:TXT}}}}));

const chart = echarts.init(document.getElementById('c'), null, {renderer:'canvas'});
chart.setOption({animation:false, backgroundColor:'#fff', grid:grids, xAxis:xAxes, yAxis:yAxes, series:series, graphic:graphic});
</script></body></html>
